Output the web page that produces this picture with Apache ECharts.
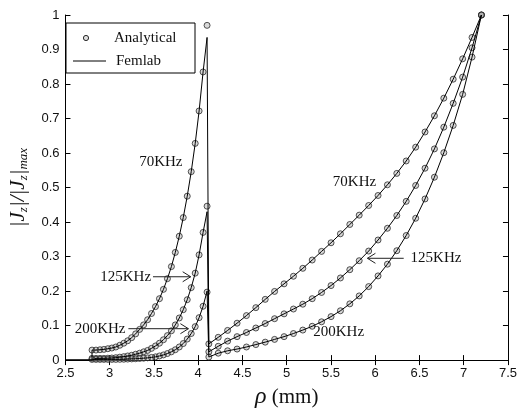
<!DOCTYPE html>
<html>
<head>
<meta charset="utf-8">
<script src="https://cdn.jsdelivr.net/npm/echarts/dist/echarts.min.js"></script>
<style>html,body{margin:0;padding:0;background:#fff}#c{width:520px;height:414px}</style>
</head>
<body>
<div id="c"></div>
<script>
// ---- data ----
const freqLabels = ['70KHz', '125KHz', '200KHz'];

// inner conductor region (rho in mm)
const leftRho = [2.800,2.845,2.890,2.934,2.979,3.024,3.069,3.114,3.159,3.203,3.248,3.293,3.338,3.383,3.428,3.472,3.517,3.562,3.607,3.652,3.697,3.741,3.786,3.831,3.876,3.921,3.966,4.010,4.055,4.100];
const left70  = [0.029,0.029,0.030,0.031,0.033,0.035,0.038,0.043,0.049,0.056,0.065,0.076,0.089,0.102,0.117,0.135,0.155,0.178,0.205,0.236,0.271,0.312,0.359,0.413,0.475,0.546,0.628,0.722,0.835,0.970];
const left125 = [0.005,0.005,0.005,0.005,0.0055,0.006,0.007,0.0085,0.010,0.012,0.014,0.017,0.020,0.024,0.028,0.034,0.041,0.049,0.059,0.071,0.085,0.102,0.122,0.146,0.175,0.210,0.252,0.305,0.370,0.446];
const left200 = [0.002,0.002,0.002,0.002,0.002,0.002,0.002,0.0022,0.0025,0.003,0.0035,0.004,0.0047,0.0055,0.0065,0.0078,0.0094,0.012,0.015,0.019,0.024,0.030,0.038,0.048,0.061,0.077,0.097,0.123,0.156,0.197];

// outer conductor region
const rightRho = [4.120,4.226,4.332,4.439,4.545,4.651,4.757,4.863,4.970,5.076,5.182,5.288,5.394,5.501,5.607,5.713,5.819,5.926,6.032,6.138,6.244,6.350,6.457,6.563,6.669,6.775,6.881,6.988,7.094,7.200];
const right70  = [0.047,0.066,0.086,0.107,0.129,0.152,0.176,0.199,0.221,0.243,0.266,0.290,0.315,0.340,0.366,0.393,0.420,0.448,0.477,0.508,0.541,0.577,0.617,0.661,0.708,0.759,0.814,0.873,0.935,1.000];
const right125 = [0.024,0.040,0.055,0.068,0.080,0.093,0.106,0.120,0.134,0.148,0.162,0.178,0.196,0.216,0.238,0.262,0.288,0.316,0.348,0.382,0.419,0.460,0.506,0.556,0.612,0.675,0.744,0.820,0.905,1.000];
const right200 = [0.009,0.020,0.027,0.032,0.038,0.045,0.052,0.060,0.068,0.077,0.087,0.098,0.111,0.126,0.143,0.163,0.186,0.213,0.244,0.278,0.317,0.361,0.411,0.467,0.530,0.601,0.680,0.770,0.878,1.000];

// Femlab line: zero over the dielectric before the inner region, and its value at the inner edge
const femlabZeroRho = [2.5, 2.8];
const femlabZeroJ = [0, 0];
const femlabTop = [0.935, 0.43, 0.20];

// annotations (data coordinates)
const annoText  = ['70KHz', '125KHz', '200KHz', '70KHz', '125KHz', '200KHz'];
const annoRho   = [3.822, 3.467, 3.178, 6.011, 6.40, 5.30];
const annoJ     = [0.574, 0.2415, 0.091, 0.517, 0.295, 0.082];
const annoAlign = ['right', 'right', 'right', 'right', 'left', 'left'];
const arrowFromRho = [3.489, 3.211, 6.322];
const arrowFromJ   = [0.2415, 0.091, 0.295];
const arrowToRho   = [3.915, 3.889, 5.912];
const arrowToJ     = [0.2415, 0.091, 0.295];

// axis
const xMin = 2.5, xMax = 7.5, xStep = 0.5;
const yMin = 0, yMax = 1, yStep = 0.1;

// ---- chart ----
const chart = echarts.init(document.getElementById('c'), null, {renderer: 'canvas'});
const pairs = (xs, ys) => xs.map((x, i) => [x, ys[i]]);
const leftVals = [left70, left125, left200];
const rightVals = [right70, right125, right200];

const series = [];
freqLabels.forEach((f, k) => {
  const n = leftRho.length;
  const lineData = pairs(femlabZeroRho, femlabZeroJ)
    .concat(pairs(leftRho.slice(0, n - 1), leftVals[k].slice(0, n - 1)))
    .concat([[leftRho[n - 1], femlabTop[k]]])
    .concat(pairs(rightRho, rightVals[k]));
  series.push({
    type: 'line', name: 'Femlab ' + f, data: lineData, showSymbol: false,
    lineStyle: {color: '#000', width: 1}, z: 3, silent: true, animation: false
  });
  series.push({
    type: 'scatter', name: 'Analytical ' + f,
    data: pairs(leftRho, leftVals[k]).concat(pairs(rightRho, rightVals[k])),
    symbol: 'circle', symbolSize: 6,
    itemStyle: {color: 'rgba(150,150,150,0.45)', borderColor: '#2a2a2a', borderWidth: 1},
    z: 2, animation: false
  });
});

const axisLine = {show: true, lineStyle: {color: '#000', width: 1}};
const tick = {show: true, inside: true, length: 5, lineStyle: {color: '#000', width: 1}};
const tickLabel = {color: '#111', fontFamily: 'Liberation Sans', fontSize: 13};

chart.setOption({
  animation: false,
  backgroundColor: '#fff',
  grid: {left: 61, right: 9, top: 15, bottom: 47, containLabel: false},
  xAxis: [
    {type: 'value', min: xMin, max: xMax, interval: xStep, position: 'bottom',
     axisLine: axisLine, axisTick: tick, splitLine: {show: false},
     axisLabel: Object.assign({margin: 7}, tickLabel),
     name: '{r|ρ}{m| (mm)}', nameLocation: 'middle', nameGap: 19,
     nameTextStyle: {rich: {
       r: {fontFamily: 'Liberation Serif', fontStyle: 'italic', fontSize: 24, color: '#111'},
       m: {fontFamily: 'Liberation Serif', fontSize: 21, color: '#111'}
     }}},
    {type: 'value', min: xMin, max: xMax, interval: xStep, position: 'top',
     axisLine: axisLine, axisTick: tick, splitLine: {show: false}, axisLabel: {show: false}}
  ],
  yAxis: [
    {type: 'value', min: yMin, max: yMax, interval: yStep, position: 'left',
     axisLine: axisLine, axisTick: tick, splitLine: {show: false},
     axisLabel: Object.assign({margin: 6}, tickLabel),
     name: '{i||J}{s|z}{i||/|J}{s|z}{i||}{s|max}', nameLocation: 'middle', nameRotate: 90, nameGap: 26,
     nameTextStyle: {rich: {
       i: {fontFamily: 'Liberation Serif', fontStyle: 'italic', fontSize: 21, lineHeight: 24, color: '#111'},
       s: {fontFamily: 'Liberation Serif', fontStyle: 'italic', fontSize: 13, lineHeight: 14, verticalAlign: 'bottom', color: '#111'}
     }}},
    {type: 'value', min: yMin, max: yMax, interval: yStep, position: 'right',
     axisLine: axisLine, axisTick: tick, splitLine: {show: false}, axisLabel: {show: false}}
  ],
  series: series
});

// ---- annotations and legend ----
const P = (x, y) => chart.convertToPixel({xAxisIndex: 0, yAxisIndex: 0}, [x, y]);
const serifFont = '15px "Liberation Serif"';
const g = [];
annoText.forEach((t, i) => {
  const p = P(annoRho[i], annoJ[i]);
  g.push({type: 'text', silent: true, z: 10, style: {
    text: t, x: p[0], y: p[1], font: serifFont, fill: '#111',
    align: annoAlign[i], textAlign: annoAlign[i], verticalAlign: 'middle', textVerticalAlign: 'middle'}});
});
arrowFromRho.forEach((x, i) => {
  const a = P(x, arrowFromJ[i]);
  const b = P(arrowToRho[i], arrowToJ[i]);
  const dir = b[0] > a[0] ? 1 : -1;
  g.push({type: 'line', silent: true, z: 10, shape: {x1: a[0], y1: a[1], x2: b[0], y2: b[1]}, style: {stroke: '#222', lineWidth: 1}});
  g.push({type: 'polyline', silent: true, z: 10,
    shape: {points: [[b[0] - dir * 8, b[1] - 5], [b[0], b[1]], [b[0] - dir * 8, b[1] + 5]]},
    style: {stroke: '#222', lineWidth: 1, fill: null}});
});
// legend box
g.push({type: 'rect', silent: true, z: 20, shape: {x: 66, y: 23, width: 129, height: 50}, style: {fill: '#fff', stroke: '#000', lineWidth: 1}});
g.push({type: 'circle', silent: true, z: 21, shape: {cx: 86, cy: 38, r: 2.6}, style: {fill: 'rgba(150,150,150,0.3)', stroke: '#2a2a2a', lineWidth: 1}});
g.push({type: 'text', silent: true, z: 21, style: {text: 'Analytical', x: 114, y: 38, font: serifFont, fill: '#111', align: 'left', textAlign: 'left', verticalAlign: 'middle', textVerticalAlign: 'middle'}});
g.push({type: 'line', silent: true, z: 21, shape: {x1: 73, y1: 61, x2: 106, y2: 61}, style: {stroke: '#000', lineWidth: 1}});
g.push({type: 'text', silent: true, z: 21, style: {text: 'Femlab', x: 116, y: 61, font: serifFont, fill: '#111', align: 'left', textAlign: 'left', verticalAlign: 'middle', textVerticalAlign: 'middle'}});

chart.setOption({graphic: {elements: g}});
</script>
</body>
</html>
